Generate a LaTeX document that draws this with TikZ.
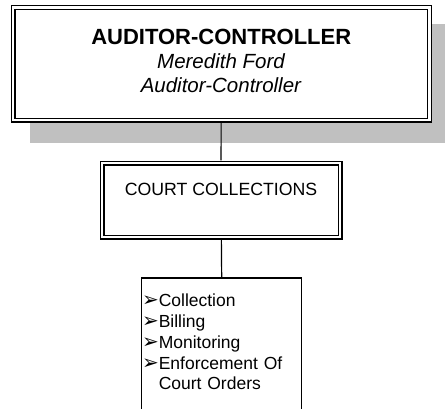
\documentclass[tikz,border=0pt]{standalone}
\usepackage{fontspec}
\setmainfont{Liberation Sans}
\newfontfamily\dejavu{DejaVu Sans}
\usetikzlibrary{backgrounds}
\definecolor{shadowgray}{RGB}{192,192,192}
\newcommand{\bul}{{\dejavu\fontsize{20}{20}\selectfont\char"27A2}}

\begin{document}
\begin{tikzpicture}[x=1pt,y=-1pt,outer sep=0pt,
	dbox/.style={draw,fill=white,double,double distance=2.6pt,line width=1.2pt,align=center,inner sep=0pt},
	link/.style={line width=1.2pt,shorten <=2.6pt,shorten >=2.6pt}]
	\useasboundingbox (0,0) rectangle (445,408);

	\node[dbox,minimum width=416.5pt,minimum height=112.3pt,
		font=\fontsize{20.5}{24}\selectfont] (ac) at (221.25,63.9)
		{{\fontsize{22}{24}\selectfont\bfseries AUDITOR-CONTROLLER}\\
		 \textit{Meredith Ford}\\ \textit{Auditor-Controller}\rule[-6pt]{0pt}{6pt}};
	\node[dbox,minimum width=238pt,minimum height=74pt,
		font=\fontsize{17.7}{21}\selectfont] (cc) at (221,200)
		{COURT COLLECTIONS\\ ~};
	\node[anchor=north west,inner xsep=0.3pt,inner ysep=16pt,text width=159.4pt,align=left,
		font=\fontsize{17.5}{20.8}\selectfont] (duty) at (141.7,278)
		{\bul Collection\\ \bul Billing\\ \bul Monitoring\\
		 \bul Enforcement Of\\ \phantom{\bul}Court Orders};
	\coordinate (bot) at (0,412);

	\begin{scope}[on background layer]
		\fill[shadowgray] ([shift={(17,16)}]ac.north west) rectangle ([shift={(20,23)}]ac.south east);
	\end{scope}

	\draw[line width=1.3pt] (duty.north west |- bot) -- (duty.north west)
		-- (duty.north east) -- (duty.north east |- bot);
	\draw[link] (ac) -- (cc);
	\draw[link,shorten >=0pt] (cc) -- (duty.north);
\end{tikzpicture}
\end{document}
